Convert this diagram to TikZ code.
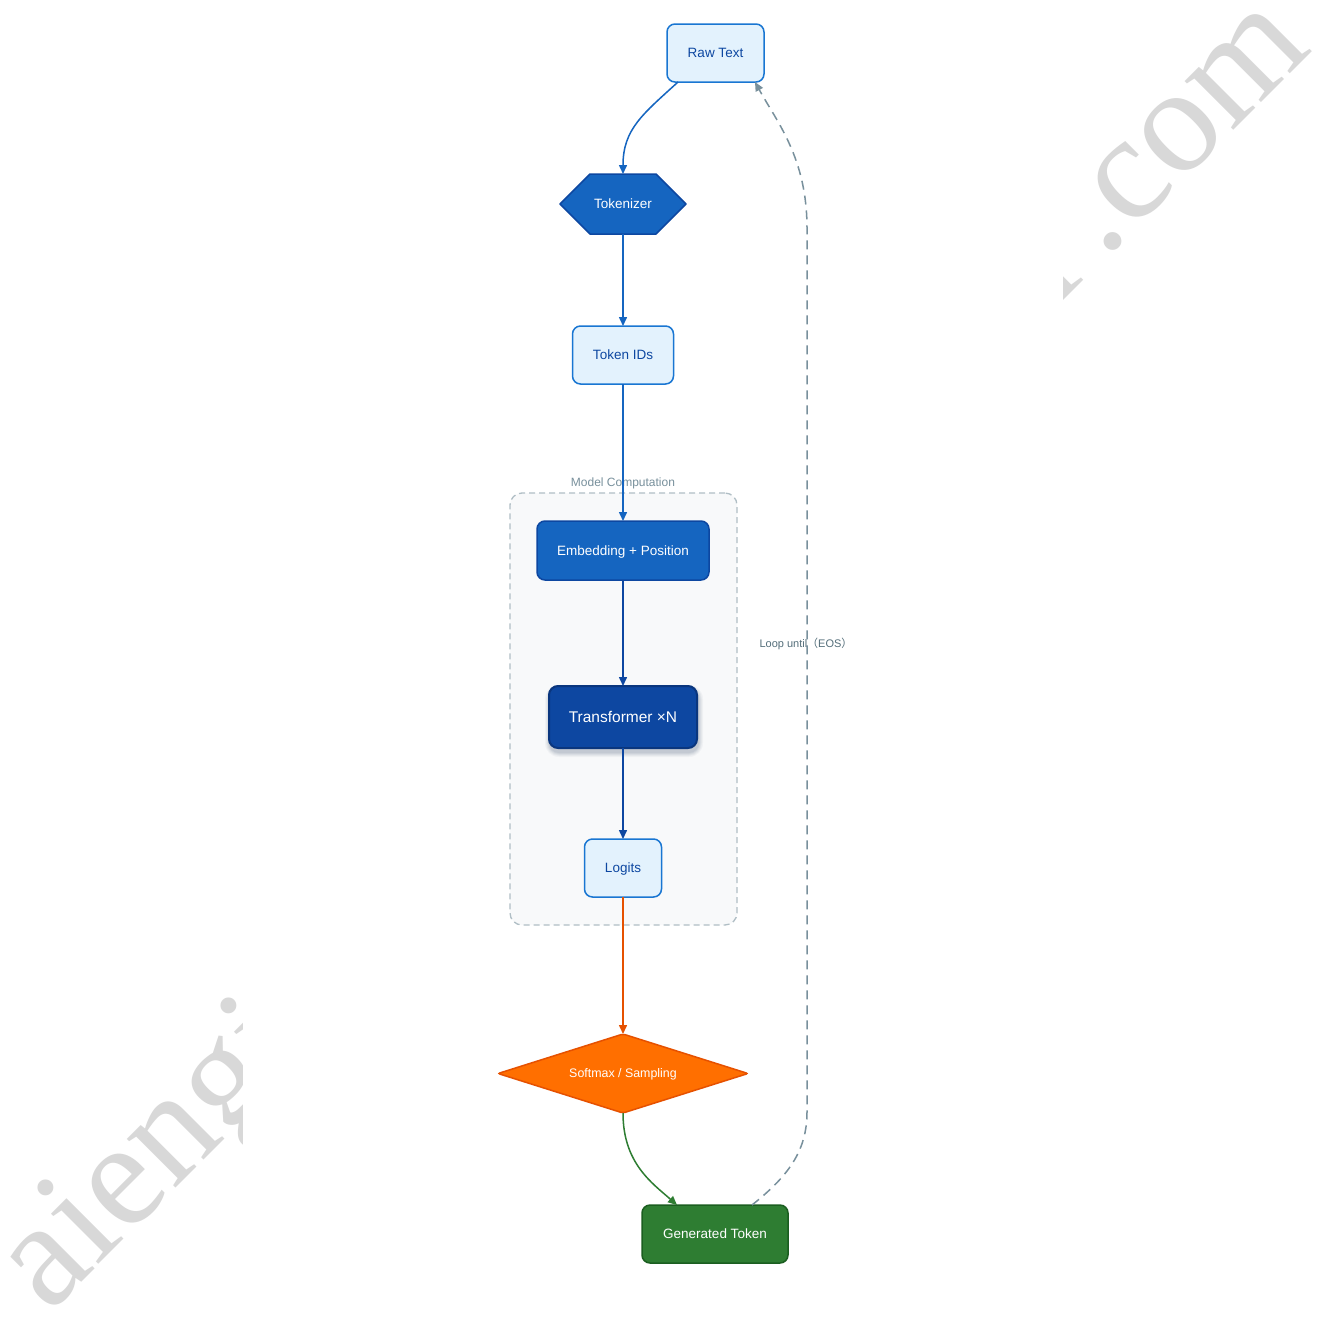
\documentclass[tikz,border=0pt]{standalone}
\usepackage{fontspec}
\setmainfont{Liberation Sans}
\newfontfamily\wmfont{Liberation Serif}
\newfontfamily\cjkfont{Noto Sans CJK SC}
\usetikzlibrary{arrows.meta,calc,backgrounds}

\pgfdeclarelayer{paper}
\pgfsetlayers{paper,background,main}

\definecolor{lightfill}{HTML}{E3F2FD}
\definecolor{lightborder}{HTML}{1976D2}
\definecolor{lighttext}{HTML}{0D47A1}
\definecolor{midblue}{HTML}{1565C0}
\definecolor{darkblue}{HTML}{0D47A1}
\definecolor{deepblue}{HTML}{0A367E}
\definecolor{orangefill}{HTML}{FF6F00}
\definecolor{orangeline}{HTML}{E65100}
\definecolor{greenfill}{HTML}{2E7D32}
\definecolor{greenline}{HTML}{1B5E20}
\definecolor{groupfill}{HTML}{F8F9FA}
\definecolor{groupline}{HTML}{B0BEC5}
\definecolor{loopgrey}{HTML}{78909C}
\definecolor{looptext}{HTML}{546E7A}
\definecolor{wmgrey}{HTML}{D8D8D8}
\definecolor{shadowgrey}{HTML}{3A4A6A}

\begin{document}
\begin{tikzpicture}[x=1pt,y=-1pt,
  every node/.style={inner sep=0pt,outer sep=0pt},
  basefont/.style={font=\fontsize{13.5}{16}\selectfont,text height=12.4pt,text depth=3pt},
  lightbox/.style={basefont,draw=lightborder,fill=lightfill,text=lighttext,
    line width=1.5pt,rounded corners=8pt},
  bluebox/.style={basefont,draw=darkblue,fill=midblue,text=white,
    line width=1.5pt,rounded corners=8pt},
  corebox/.style={font=\fontsize{15.5}{18}\selectfont,text height=14.3pt,text depth=3.5pt,
    draw=deepblue,fill=darkblue,text=white,line width=2pt,rounded corners=9pt},
  outbox/.style={basefont,draw=greenline,fill=greenfill,text=white,
    line width=1.5pt,rounded corners=8pt},
  textonly/.style={basefont,text=white},
  hexshape/.style={draw=darkblue,fill=midblue,line width=1.5pt,line join=round},
  diashape/.style={draw=orangeline,fill=orangefill,line width=1.5pt,rounded corners=2pt},
  group/.style={draw=groupline,fill=groupfill,line width=1.3pt,
    dash pattern=on 6pt off 4pt,rounded corners=12pt},
  grouplabel/.style={font=\fontsize{12}{14}\selectfont,text height=10.5pt,text depth=2.5pt,text=loopgrey},
  tip/.style={-{Triangle[length=9pt,width=8pt]}},
  flow/.style={tip,line width=1.5pt,draw=midblue},
  flowdark/.style={tip,line width=1.5pt,draw=darkblue},
  floworange/.style={tip,line width=1.5pt,draw=orangeline},
  flowgreen/.style={tip,line width=1.5pt,draw=greenfill},
  loop/.style={tip,line width=1.5pt,draw=loopgrey,dash pattern=on 9pt off 6pt},
  looplabel/.style={font=\fontsize{11}{13}\selectfont,text height=9.6pt,text depth=2.4pt,text=looptext},
  watermark/.style={rotate=45,text=wmgrey,font=\wmfont\fontsize{150}{150}\selectfont},
]
\begin{pgfonlayer}{paper}
  \path[fill=white,use as bounding box] (0,0) rectangle (1323,1320);
\end{pgfonlayer}

% watermark, visible only in the outer margins
\begin{scope}
  \clip (0,0) rectangle (242,1320);
  \node[watermark,anchor=base west] (wmleft) at (49.5,1314) {aiengi};
\end{scope}
\begin{scope}
  \clip (1063,0) rectangle (1323,1320);
  \node[watermark,anchor=base east] (wmr) at (1094.1,269.9) {r};
  \node[watermark,anchor=base west] (wmcom) at (1104.7,259.3) {.com};
\end{scope}

% nodes
\node[lightbox,minimum width=97,minimum height=58] (raw) at (715.5,53) {Raw Text};
\node[textonly,minimum width=126,minimum height=60] (tok) at (623,204) {Tokenizer};
\node[lightbox,minimum width=101,minimum height=58] (ids) at (623,355) {Token IDs};
\node[bluebox,minimum width=172,minimum height=59] (emb) at (623,550.5) {Embedding + Position};
\node[corebox,minimum width=148,minimum height=62] (trf) at (623,717) {Transformer ×N};
\node[lightbox,minimum width=77,minimum height=58] (logits) at (623,868) {Logits};
\node[textonly,font=\fontsize{12.4}{15}\selectfont,text height=11.6pt,text depth=3pt,
  minimum width=250,minimum height=79] (soft) at (623,1073.5) {Softmax / Sampling};
\node[outbox,minimum width=146,minimum height=58] (gen) at (715,1234) {Generated Token};

% group frame, shapes and the soft shadow sit behind the labelled nodes
\begin{scope}[on background layer]
  \node[group,minimum width=227,minimum height=432] (grp) at (623.5,709) {};
  \foreach \g/\o in {5/0.04,4/0.05,3/0.06,2/0.07,1/0.08}
    \fill[shadowgrey,opacity=\o,rounded corners=9pt+\g pt]
      ($(trf.south west)+(1-\g,4+\g)$) rectangle ($(trf.north east)+(1+\g,4-\g)$);
  \draw[hexshape] (tok.west) -- ($(tok.north west)+(30,0)$) -- ($(tok.north east)+(-30,0)$)
    -- (tok.east) -- ($(tok.south east)+(-30,0)$) -- ($(tok.south west)+(30,0)$) -- cycle;
  \draw[diashape] (soft.west) -- (soft.north) -- (soft.east) -- (soft.south) -- cycle;
\end{scope}
\node[grouplabel] (grplabel) at (623,482) {Model Computation};

% connectors
\draw[flow] ($(raw.south)+(-37.5,0)$) .. controls +(-35,32) and +(0,-45) .. (tok.north);
\draw[flow] (tok.south) -- (ids.north);
\draw[flow] (ids.south) -- (emb.north);
\draw[flowdark] (emb.south) -- (trf.north);
\draw[flowdark] (trf.south) -- (logits.north);
\draw[floworange] (logits.south) -- (soft.north);
\draw[flowgreen] (soft.south) .. controls +(0,50) and +(-25,-22) .. ($(gen.north)+(-38,0)$);

% generation loop back to the input
\coordinate (loopbot) at (807,1112);
\coordinate (looptop) at (807,228);
\draw[loop] ($(gen.north)+(37,0)$) .. controls +(35,-28) and +(0,40) .. (loopbot)
  -- (looptop) .. controls +(0,-70) and +(22,40) .. ($(raw.south)+(39.5,0)$);
\node[looplabel] (looplbl) at (806,644) {Loop until{\cjkfont （}EOS{\cjkfont ）}};
\end{tikzpicture}
\end{document}
